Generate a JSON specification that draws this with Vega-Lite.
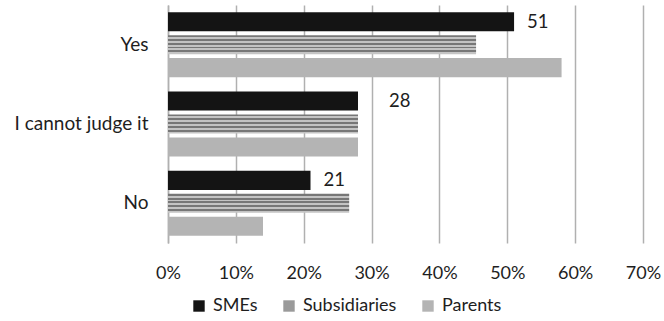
{
  "$schema": "https://vega.github.io/schema/vega-lite/v6.json",
  "width": 475,
  "height": 238,
  "autosize": "none",
  "padding": {"left": 168, "top": 5, "right": 21, "bottom": 78},
  "background": "white",
  "config": {
    "font": "Lato",
    "view": {"stroke": null},
    "axis": {"labelFont": "Lato", "labelColor": "#1e1e1e"},
    "legend": {"labelFont": "Lato"}
  },
  "data": {
    "values": [
      {"answer": "Yes", "group": "SMEs", "pct": 51},
      {"answer": "Yes", "group": "Subsidiaries", "pct": 45.4},
      {"answer": "Yes", "group": "Parents", "pct": 58},
      {"answer": "I cannot judge it", "group": "SMEs", "pct": 28},
      {"answer": "I cannot judge it", "group": "Subsidiaries", "pct": 28},
      {"answer": "I cannot judge it", "group": "Parents", "pct": 28},
      {"answer": "No", "group": "SMEs", "pct": 21},
      {"answer": "No", "group": "Subsidiaries", "pct": 26.7},
      {"answer": "No", "group": "Parents", "pct": 14}
    ]
  },
  "encoding": {
    "y": {
      "field": "answer",
      "type": "nominal",
      "sort": ["Yes", "I cannot judge it", "No"],
      "scale": {"paddingInner": 0.18, "paddingOuter": 0.09},
      "axis": {
        "title": null,
        "ticks": false,
        "domainColor": "#b0b0b0",
        "domainWidth": 1.5,
        "labelFontSize": 19,
        "labelPadding": 20
      }
    },
    "yOffset": {
      "field": "group",
      "type": "nominal",
      "sort": ["SMEs", "Subsidiaries", "Parents"],
      "scale": {"paddingInner": 0.17, "paddingOuter": 0}
    },
    "x": {
      "field": "pct",
      "type": "quantitative",
      "scale": {"domain": [0, 70], "nice": false},
      "axis": {
        "title": null,
        "values": [0, 10, 20, 30, 40, 50, 60, 70],
        "labelExpr": "datum.value + '%'",
        "domain": false,
        "ticks": false,
        "grid": true,
        "gridColor": "#b0b0b0",
        "gridWidth": 1.5,
        "labelFontSize": 18,
        "labelPadding": 21,
        "labelFlush": false
      }
    }
  },
  "layer": [
    {
      "mark": {"type": "bar"},
      "encoding": {
        "color": {
          "condition": {
            "test": "datum.group === 'Subsidiaries'",
            "value": {
              "gradient": "linear",
              "x1": 0, "y1": 0, "x2": 0, "y2": 1,
              "stops": [
                {"offset": 0, "color": "#777777"}, {"offset": 0.1, "color": "#777777"},
                {"offset": 0.1, "color": "#c4c4c4"}, {"offset": 0.2, "color": "#c4c4c4"},
                {"offset": 0.2, "color": "#777777"}, {"offset": 0.3, "color": "#777777"},
                {"offset": 0.3, "color": "#c4c4c4"}, {"offset": 0.4, "color": "#c4c4c4"},
                {"offset": 0.4, "color": "#777777"}, {"offset": 0.5, "color": "#777777"},
                {"offset": 0.5, "color": "#c4c4c4"}, {"offset": 0.6, "color": "#c4c4c4"},
                {"offset": 0.6, "color": "#777777"}, {"offset": 0.7, "color": "#777777"},
                {"offset": 0.7, "color": "#c4c4c4"}, {"offset": 0.8, "color": "#c4c4c4"},
                {"offset": 0.8, "color": "#777777"}, {"offset": 0.9, "color": "#777777"},
                {"offset": 0.9, "color": "#c4c4c4"}, {"offset": 1, "color": "#c4c4c4"}
              ]
            }
          },
          "field": "group",
          "type": "nominal",
          "sort": ["SMEs", "Subsidiaries", "Parents"],
          "scale": {"domain": ["SMEs", "Subsidiaries", "Parents"], "range": ["#141414", "#9a9a9a", "#b4b4b4"]},
          "legend": {
            "title": null,
            "orient": "none",
            "legendX": 22,
            "legendY": 292,
            "direction": "horizontal",
            "symbolType": "square",
            "symbolSize": 130,
            "symbolStrokeWidth": 0,
            "labelFontSize": 18,
            "labelColor": "#1e1e1e",
            "columnPadding": 22,
            "labelOffset": 5
          }
        }
      }
    },
    {
      "transform": [{"filter": "datum.group === 'SMEs' && datum.answer !== 'I cannot judge it'"}],
      "mark": {"type": "text", "align": "left", "baseline": "middle", "dx": 13, "fontSize": 18.5, "color": "#1e1e1e"},
      "encoding": {"text": {"field": "pct", "type": "quantitative"}}
    },
    {
      "transform": [{"filter": "datum.group === 'SMEs' && datum.answer === 'I cannot judge it'"}],
      "mark": {"type": "text", "align": "left", "baseline": "middle", "dx": 31, "fontSize": 18.5, "color": "#1e1e1e"},
      "encoding": {"text": {"field": "pct", "type": "quantitative"}}
    }
  ]
}
